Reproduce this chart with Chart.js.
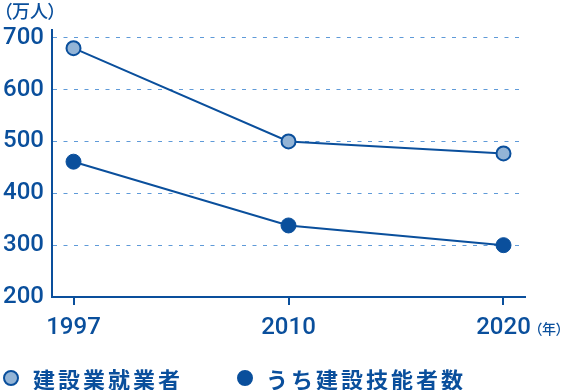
<!DOCTYPE html>
<html lang="ja">
<head>
<meta charset="utf-8">
<script src="https://cdn.jsdelivr.net/npm/chart.js@4.4.1/dist/chart.umd.min.js"></script>
<style>
  html, body { margin: 0; padding: 0; background: #fff; }
  #wrap { position: relative; width: 568px; height: 390px; overflow: hidden; }
  #wrap canvas { position: absolute; left: 0; top: 0; }
  .note { position: absolute; color: #0a4f9c; font-family: "Noto Sans CJK JP", sans-serif; font-weight: 500; white-space: nowrap; font-feature-settings: "palt"; line-height: 1; }
  .legend { position: absolute; top: 364px; color: #0a4f9c; font-family: "Noto Sans CJK JP", sans-serif; font-weight: 700; font-size: 22px; letter-spacing: 3px; line-height: 28px; white-space: nowrap; }
  .dot { position: absolute; width: 12px; height: 12px; border-radius: 50%; border: 2px solid #0a4f9c; box-sizing: content-box; }
</style>
</head>
<body>
<div id="wrap">
  <canvas id="chart" width="568" height="390"></canvas>
  <div class="note" style="left:3px;top:1px;font-size:18px;">（万人）</div>
  <div class="note" style="left:535px;top:321px;font-size:14px;">（年）</div>
  <div class="dot" style="left:3px;top:370px;background:#93b4d6;"></div>
  <div class="legend" style="left:33px;">建設業就業者</div>
  <div class="dot" style="left:237px;top:370px;background:#0a4f9c;"></div>
  <div class="legend" style="left:266px;">うち建設技能者数</div>
</div>
<script>
// データ
const years = ['1997', '2010', '2020'];
const workers = [680, 500, 477];       // 建設業就業者
const skilledWorkers = [461, 338, 300]; // うち建設技能者数
const yTicks = [200, 300, 400, 500, 600, 700];

const blue = '#0a4f9c';
const lightBlue = '#93b4d6';
const gridBlue = '#5f9ad8';

const toPoints = arr => arr.map((v, i) => ({ x: i, y: v }));

new Chart(document.getElementById('chart').getContext('2d'), {
  type: 'line',
  data: {
    datasets: [
      {
        label: '建設業就業者',
        data: toPoints(workers),
        borderColor: blue,
        borderWidth: 2,
        pointRadius: 7,
        pointBorderWidth: 2,
        pointBackgroundColor: lightBlue,
        pointBorderColor: blue,
        tension: 0
      },
      {
        label: 'うち建設技能者数',
        data: toPoints(skilledWorkers),
        borderColor: blue,
        borderWidth: 2,
        pointRadius: 7.5,
        pointBorderWidth: 1,
        pointBackgroundColor: blue,
        pointBorderColor: blue,
        tension: 0
      }
    ]
  },
  options: {
    responsive: false,
    animation: false,
    events: [],
    layout: { padding: { top: 30, right: 43, bottom: 0, left: 0 } },
    plugins: { legend: { display: false }, tooltip: { enabled: false } },
    scales: {
      x: {
        type: 'linear',
        min: -0.1,
        max: 2.1,
        afterBuildTicks: scale => { scale.ticks = years.map((y, i) => ({ value: i })); },
        afterFit: scale => { scale.height = 93; },
        border: { color: blue, width: 2 },
        grid: { drawOnChartArea: false, drawTicks: true, tickLength: 8, color: blue, lineWidth: 2 },
        ticks: {
          color: blue,
          padding: 9,
          maxRotation: 0,
          font: { family: 'Roboto', size: 24, weight: '500' },
          callback: v => years[v]
        }
      },
      y: {
        min: 200,
        max: 715,
        afterBuildTicks: scale => { scale.ticks = yTicks.map(v => ({ value: v })); },
        afterFit: scale => { scale.width = 52; },
        border: { color: blue, width: 2, dash: [4, 6.5] },
        grid: { color: gridBlue, lineWidth: 1, drawTicks: false },
        ticks: {
          color: blue,
          padding: 8,
          font: { family: 'Roboto', size: 24, weight: '500' }
        }
      }
    }
  }
});
</script>
</body>
</html>
